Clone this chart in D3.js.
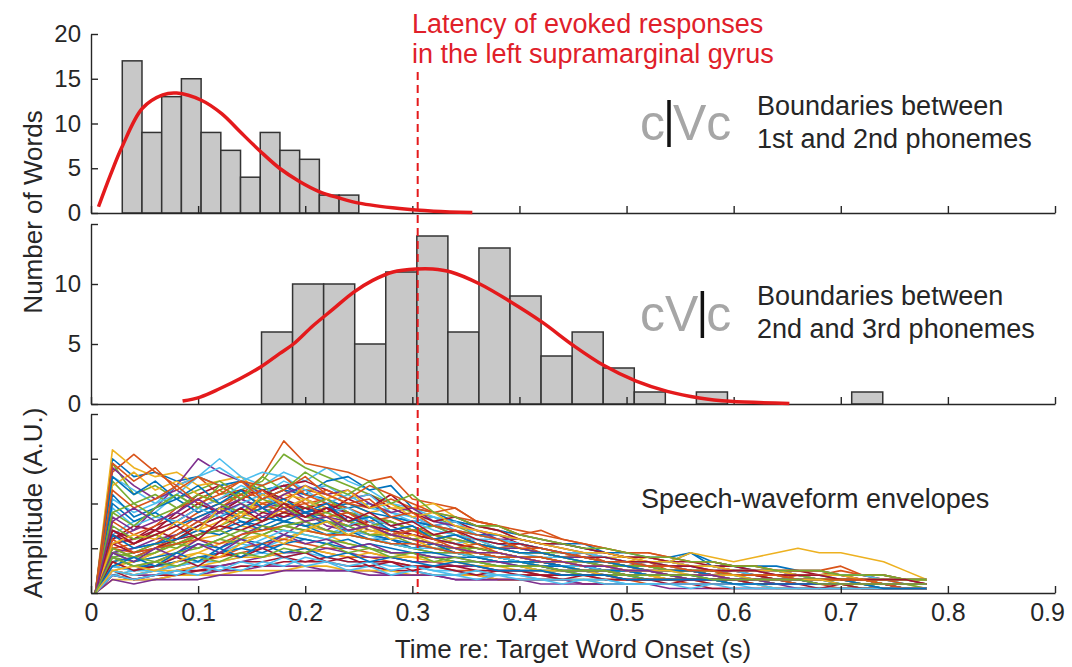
<!DOCTYPE html>
<html><head><meta charset="utf-8">
<script src="https://cdn.jsdelivr.net/npm/d3@7"></script>
<style>
html,body{margin:0;padding:0;background:#fff;}
svg{display:block;}
text{font-family:"Liberation Sans",Arial,Helvetica,sans-serif;}
</style></head><body>
<svg id="chart" width="1072" height="667"></svg>
<script>
// ---------------- data ----------------
const xTicks = [0,0.1,0.2,0.3,0.4,0.5,0.6,0.7,0.8,0.9];
const xTickLabels = ["0","0.1","0.2","0.3","0.4","0.5","0.6","0.7","0.8","0.9"];
const topYTicks = [0,5,10,15,20];
const topYTickLabels = ["0","5","10","15","20"];
const midYTicks = [0,5,10,15];
const midYTickLabels = ["0","5","10",""];
const botYTicks = [0,1,2,3,4];

// histogram of 1st/2nd phoneme boundaries
const topEdges = [0.0292,0.0476,0.0660,0.0844,0.1028,0.1212,0.1396,0.1580,0.1764,0.1948,0.2132,0.2316,0.2500];
const topCounts = [17,9,13,15,9,7,4,9,7,6,2,2];
const topFitT = [0.007,0.018,0.029,0.048,0.067,0.080,0.103,0.122,0.139,0.158,0.176,0.195,0.213,0.231,0.250,0.288,0.320,0.356];
const topFitV = [0.7,4.2,7.4,11.7,13.2,13.4,12.6,11.1,9.1,6.9,5.0,3.5,2.4,1.7,1.1,0.5,0.2,0.05];

// histogram of 2nd/3rd phoneme boundaries
const midEdges = [0.1592,0.1882,0.2172,0.2462,0.2752,0.3042,0.3332,0.3622,0.3912,0.4202,0.4492,0.4782,0.5072,0.5362,0.5652,0.5942,0.6232,0.6522,0.6812,0.7102,0.7392];
const midCounts = [6,10,10,5,11,14,6,13,9,4,6,3,1,0,1,0,0,0,0,1];
const midFitT = [0.0855,0.102,0.120,0.139,0.158,0.176,0.189,0.207,0.226,0.245,0.263,0.282,0.304,0.319,0.336,0.363,0.392,0.4215,0.450,0.479,0.509,0.538,0.568,0.597,0.652];
const midFitV = [0.25,0.58,1.27,2.1,3.07,4.2,5.0,6.5,7.9,9.3,10.3,11.0,11.25,11.25,11.0,10.0,8.5,6.8,4.9,3.2,1.9,1.05,0.5,0.22,0.05];

const latency = 0.305;

// speech-waveform envelopes (A.U.), sampled on envTime
const envTime = [0.004,0.02,0.04,0.06,0.08,0.10,0.12,0.14,0.16,0.18,0.20,0.22,0.24,0.26,0.28,0.30,0.32,0.34,0.36,0.38,0.40,0.42,0.44,0.46,0.48,0.50,0.52,0.54,0.56,0.58,0.60,0.62,0.64,0.66,0.68,0.70,0.72,0.74,0.76,0.78];
const envelopes = [
[0,3.0,2.6,2.7,2.5,2.6,2.4,2.5,2.3,2.4,2.2,2.1,1.9,2.0,1.7,1.6,1.5,1.3,1.2,1.1,1.0,0.9,0.8,0.8,0.7,0.6,0.6,0.5,0.5,0.4,0.4,0.4,0.3,0.3,0.3,0.3,0.2,0.2,0.2,0.2],
[0,2.7,3.1,2.7,2.4,2.6,2.2,2.3,2.1,2.3,2.0,2.1,1.8,1.6,1.7,1.5,1.3,1.4,1.1,1.0,1.1,0.9,0.8,0.9,0.7,0.6,0.7,0.5,0.5,0.4,0.5,0.4,0.3,0.4,0.3,0.3,0.3,0.2,0.2,0.2],
[0,3.2,2.8,2.6,2.7,2.4,2.5,2.6,2.2,2.0,1.8,1.9,1.6,1.4,1.3,1.2,1.1,1.0,0.9,0.8,0.8,0.7,0.6,0.6,0.5,0.5,0.4,0.4,0.3,0.3,0.3,0.3,0.3,0.2,0.2,0.2,0.2,0.2,0.2,0.1],
[0,1.2,1.4,1.9,2.4,3.0,2.7,2.5,2.2,2.4,2.1,1.9,1.8,1.6,1.4,1.2,1.1,1.0,0.9,0.8,0.7,0.7,0.6,0.5,0.5,0.4,0.4,0.4,0.3,0.3,0.3,0.3,0.2,0.2,0.2,0.2,0.2,0.2,0.1,0.1],
[0,0.8,0.7,0.9,1.2,1.5,1.8,2.3,2.5,3.1,2.8,2.6,2.4,2.2,2.0,1.8,1.7,1.5,1.3,1.2,1.0,0.9,0.9,0.8,0.7,0.6,0.6,0.5,0.5,0.4,0.4,0.4,0.3,0.3,0.3,0.3,0.2,0.2,0.2,0.2],
[0,1.3,1.6,1.8,2.2,2.6,3.0,2.6,2.4,2.7,2.5,2.8,2.5,2.3,2.0,1.9,1.7,1.6,1.3,1.2,1.1,1.0,0.9,0.8,0.8,0.7,0.6,0.6,0.5,0.5,0.4,0.4,0.4,0.3,0.3,0.3,0.3,0.2,0.2,0.2],
[0,1.1,1.2,1.4,1.6,1.9,2.1,2.3,2.2,2.4,2.5,2.3,2.1,2.2,1.9,1.7,1.5,1.6,1.4,1.3,1.1,1.0,0.9,0.9,0.8,0.7,0.7,0.6,0.5,0.5,0.5,0.4,0.4,0.4,0.3,0.3,0.3,0.2,0.2,0.2],
[0,0.9,1.0,1.1,1.3,1.5,1.7,1.9,2.1,2.3,2.2,2.5,2.6,2.3,2.4,1.9,1.8,1.6,1.5,1.4,1.3,1.2,1.1,1.1,0.9,0.8,0.8,0.7,0.9,0.6,0.6,0.5,0.5,0.4,0.4,0.3,0.3,0.3,0.2,0.2],
[0,1.0,0.9,1.1,1.4,1.7,1.9,2.2,2.6,3.4,2.9,2.8,2.7,2.5,2.6,2.1,2.0,1.9,1.6,1.5,1.3,1.2,1.1,1.0,0.9,0.8,0.8,0.7,0.6,0.6,0.5,0.5,0.5,0.4,0.4,0.5,0.4,0.3,0.3,0.3],
[0,0.7,0.8,1.0,1.2,1.4,1.6,1.8,2.0,2.2,2.1,1.9,2.0,1.8,1.9,1.9,2.0,1.7,1.5,1.4,1.2,1.1,1.0,0.9,0.8,0.8,0.7,0.7,0.6,0.6,0.5,0.5,0.5,0.4,0.4,0.4,0.3,0.3,0.3,0.2],
[0,0.9,1.0,1.2,1.3,1.6,1.8,1.7,1.9,2.0,1.8,1.7,1.6,1.4,1.3,1.2,1.1,1.0,0.9,0.8,0.7,0.7,0.6,0.6,0.5,0.5,0.4,0.4,0.3,0.3,0.3,0.3,0.2,0.2,0.2,0.2,0.2,0.2,0.1,0.1],
[0,2.9,2.2,2.4,2.1,2.3,2.5,2.2,2.4,2.0,1.9,1.7,1.8,1.5,1.4,1.2,1.3,1.1,0.9,0.8,0.7,0.7,0.6,0.5,0.5,0.4,0.4,0.4,0.3,0.3,0.3,0.2,0.2,0.2,0.2,0.2,0.2,0.1,0.1,0.1],
[0,2.6,2.3,2.0,2.4,2.6,2.8,2.5,2.7,2.6,2.3,2.4,2.1,2.2,1.8,1.7,1.5,1.6,1.3,1.2,1.1,1.0,0.9,0.8,0.8,0.7,0.6,0.6,0.5,0.5,0.4,0.4,0.4,0.3,0.3,0.3,0.3,0.2,0.2,0.2],
[0,1.2,1.5,1.4,1.8,2.2,2.4,2.1,2.3,2.0,1.9,1.7,1.5,1.6,1.4,1.2,1.1,1.0,0.9,0.8,0.8,0.7,0.6,0.6,0.5,0.5,0.4,0.4,0.4,0.3,0.3,0.3,0.3,0.2,0.2,0.2,0.2,0.2,0.1,0.1],
[0,0.7,0.8,1.0,1.1,1.3,1.4,1.6,1.5,1.7,1.8,1.9,2.0,1.8,1.7,1.6,1.5,1.4,1.3,1.3,1.2,1.1,1.1,1.0,0.9,0.9,0.8,0.8,0.9,0.7,0.6,0.6,0.6,0.5,0.5,0.4,0.4,0.4,0.3,0.3],
[0,1.0,1.1,1.3,1.5,1.8,2.0,2.2,2.0,2.1,2.3,2.2,2.0,1.9,2.1,1.9,1.8,1.7,1.6,1.5,1.4,1.3,1.2,1.1,1.0,0.9,0.9,0.8,0.7,0.7,0.6,0.6,0.5,0.5,0.5,0.6,0.4,0.4,0.3,0.3],
[0,0.6,0.7,0.8,1.0,1.2,1.3,1.5,1.4,1.6,1.5,1.4,1.3,1.4,1.3,1.2,1.1,1.2,1.0,1.0,0.9,0.9,0.8,0.8,0.7,0.7,0.8,0.7,0.9,0.8,0.7,0.8,0.9,1.0,0.9,0.9,0.8,0.7,0.5,0.3],
[0,2.8,2.4,2.1,2.3,2.0,1.8,2.1,1.9,1.7,1.8,1.5,1.4,1.3,1.2,1.0,1.1,0.9,0.8,0.7,0.7,0.6,0.5,0.5,0.4,0.4,0.4,0.3,0.3,0.3,0.3,0.2,0.2,0.2,0.2,0.2,0.1,0.1,0.1,0.1],
[0,2.5,2.0,2.2,1.9,2.1,2.3,2.0,1.8,2.0,1.7,1.6,1.4,1.5,1.3,1.1,1.0,1.0,0.8,0.8,0.7,0.6,0.6,0.5,0.5,0.4,0.4,0.3,0.3,0.3,0.3,0.3,0.2,0.2,0.2,0.2,0.2,0.2,0.1,0.1],
[0,2.1,1.8,2.0,2.2,1.9,2.1,2.4,2.2,2.5,2.3,2.0,2.2,1.9,1.8,1.6,1.7,1.4,1.3,1.2,1.1,1.0,0.9,0.9,0.8,0.7,0.7,0.6,0.6,0.5,0.5,0.4,0.4,0.4,0.3,0.3,0.3,0.3,0.2,0.2],
[0,1.4,1.2,1.5,1.7,2.0,1.8,2.1,2.3,2.1,1.9,2.0,1.8,1.7,1.5,1.3,1.2,1.1,1.0,0.9,0.8,0.8,0.7,0.6,0.6,0.5,0.5,0.4,0.4,0.4,0.3,0.3,0.3,0.3,0.2,0.2,0.2,0.2,0.2,0.2],
[0,2.2,1.7,1.9,2.1,1.8,2.0,1.7,1.9,1.6,1.5,1.6,1.3,1.2,1.2,1.0,0.9,0.9,0.8,0.7,0.6,0.6,0.5,0.5,0.4,0.4,0.3,0.3,0.3,0.3,0.2,0.2,0.2,0.2,0.2,0.2,0.2,0.1,0.1,0.1],
[0,1.6,1.3,1.5,1.9,2.1,2.3,2.5,2.4,2.6,2.2,2.0,1.9,1.7,1.6,1.4,1.3,1.2,1.1,1.0,0.9,0.9,0.8,0.7,0.7,0.6,0.6,0.5,0.5,0.4,0.4,0.4,0.3,0.3,0.3,0.3,0.2,0.2,0.2,0.2],
[0,2.4,2.7,2.3,2.5,2.2,2.0,1.8,2.0,1.8,1.6,1.7,1.5,1.3,1.4,1.2,1.0,0.9,0.9,0.8,0.7,0.6,0.6,0.5,0.4,0.4,0.4,0.3,0.3,0.3,0.2,0.2,0.2,0.2,0.2,0.2,0.1,0.1,0.1,0.1],
[0,1.7,1.4,1.6,1.8,1.6,1.9,2.1,1.9,2.2,2.4,2.2,2.3,2.0,1.8,1.9,1.6,1.5,1.4,1.2,1.2,1.1,1.0,0.9,0.9,0.8,0.7,0.7,0.6,0.6,0.5,0.5,0.5,0.4,0.4,0.4,0.3,0.3,0.3,0.2],
[0,0.8,0.9,1.1,1.0,1.3,1.5,1.7,1.6,1.8,1.9,2.1,1.8,1.7,1.6,1.4,1.5,1.3,1.2,1.0,1.0,0.9,0.8,0.8,0.7,0.6,0.6,0.5,0.5,0.5,0.4,0.4,0.4,0.3,0.3,0.3,0.3,0.2,0.2,0.2],
[0,1.9,1.5,1.7,1.6,1.9,1.7,2.0,2.2,1.9,2.1,1.8,1.9,1.6,1.4,1.5,1.2,1.1,1.2,1.0,0.9,0.8,0.8,0.7,0.6,0.6,0.5,0.5,0.4,0.4,0.4,0.3,0.3,0.3,0.3,0.2,0.2,0.2,0.2,0.2],
[0,1.3,1.1,1.4,1.2,1.5,1.7,1.5,1.8,1.7,1.9,1.8,2.1,1.9,2.2,1.8,1.6,1.7,1.5,1.4,1.2,1.1,1.1,1.0,0.9,0.8,0.8,0.7,0.7,0.6,0.6,0.5,0.5,0.5,0.4,0.4,0.4,0.3,0.3,0.3],
[0,2.0,1.6,1.8,1.5,1.7,1.9,1.6,1.4,1.6,1.5,1.3,1.4,1.2,1.1,1.0,1.1,0.9,0.8,0.8,0.7,0.7,0.6,0.6,0.5,0.5,0.5,0.4,0.4,0.4,0.3,0.3,0.3,0.3,0.2,0.2,0.2,0.2,0.2,0.2],
[0,1.0,0.8,1.0,1.3,1.6,1.4,1.7,2.0,1.8,2.1,2.3,2.1,2.4,2.2,2.0,1.8,1.9,1.6,1.5,1.3,1.4,1.2,1.1,1.0,0.9,0.9,0.8,0.7,0.7,0.6,0.6,0.5,0.5,0.5,0.4,0.4,0.4,0.3,0.3],
[0,0.6,0.7,0.9,1.1,1.3,1.5,1.8,1.6,1.9,2.1,1.8,1.6,1.5,1.3,1.2,1.0,0.9,0.8,0.8,0.7,0.6,0.6,0.5,0.5,0.4,0.4,0.3,0.3,0.3,0.3,0.2,0.2,0.2,0.2,0.2,0.2,0.1,0.1,0.1],
[0,0.6,0.5,0.7,0.9,1.2,1.0,1.3,1.5,1.3,1.6,1.4,1.7,1.5,1.3,1.4,1.2,1.3,1.1,1.0,1.0,0.9,0.8,0.8,0.7,0.7,0.6,0.6,0.6,0.5,0.5,0.5,0.4,0.4,0.4,0.4,0.3,0.3,0.3,0.3],
[0,1.8,2.0,1.7,1.9,2.2,2.0,1.8,2.1,1.9,1.7,1.8,1.6,1.5,1.6,1.4,1.3,1.2,1.1,1.0,0.9,0.9,0.8,0.7,0.7,0.6,0.6,0.5,0.5,0.5,0.4,0.4,0.4,0.3,0.3,0.3,0.3,0.2,0.2,0.2],
[0,0.4,0.5,0.6,0.8,0.7,0.9,1.1,1.0,1.2,1.4,1.3,1.5,1.7,1.5,1.6,1.4,1.3,1.2,1.2,1.1,1.0,0.9,0.9,0.8,0.7,0.7,0.7,0.6,0.6,0.5,0.5,0.5,0.4,0.4,0.4,0.4,0.3,0.3,0.3],
[0,1.1,0.9,1.0,1.2,1.3,1.5,1.4,1.6,1.8,1.7,1.9,1.7,1.5,1.4,1.3,1.2,1.1,1.0,0.9,0.8,0.8,0.7,0.7,0.6,0.6,0.5,0.5,0.5,0.4,0.4,0.4,0.3,0.3,0.3,0.3,0.3,0.2,0.2,0.2],
[0,1.3,1.0,1.1,1.2,1.4,1.3,1.5,1.7,1.6,1.8,1.6,1.5,1.3,1.2,1.1,1.0,0.9,0.8,0.8,0.7,0.7,0.6,0.6,0.5,0.5,0.4,0.4,0.4,0.3,0.3,0.3,0.3,0.2,0.2,0.2,0.2,0.2,0.2,0.2],
[0,0.5,0.4,0.5,0.6,0.7,0.8,0.9,1.0,1.1,1.0,0.9,0.8,0.8,0.7,0.6,0.6,0.5,0.5,0.4,0.4,0.4,0.3,0.3,0.3,0.3,0.2,0.2,0.2,0.2,0.2,0.2,0.1,0.1,0.1,0.1,0.1,0.1,0.1,0.1],
[0,0.8,0.6,0.7,0.8,0.9,1.1,1.2,1.3,1.2,1.4,1.3,1.1,1.0,0.9,0.8,0.8,0.7,0.6,0.6,0.5,0.5,0.4,0.4,0.4,0.3,0.3,0.3,0.3,0.2,0.2,0.2,0.2,0.2,0.2,0.2,0.1,0.1,0.1,0.1],
[0,0.4,0.3,0.3,0.4,0.4,0.5,0.5,0.6,0.6,0.6,0.5,0.5,0.5,0.4,0.4,0.4,0.3,0.3,0.3,0.3,0.2,0.2,0.2,0.2,0.2,0.2,0.1,0.1,0.1,0.1,0.1,0.1,0.1,0.1,0.1,0.1,0.1,0.1,0.1],
[0,1.0,0.8,0.9,1.1,1.0,1.2,1.4,1.3,1.5,1.6,1.4,1.3,1.2,1.1,1.0,0.9,0.9,0.8,0.7,0.7,0.6,0.6,0.5,0.5,0.4,0.4,0.4,0.3,0.3,0.3,0.3,0.2,0.2,0.2,0.2,0.2,0.2,0.2,0.1],
[0,0.6,0.5,0.6,0.6,0.7,0.7,0.8,0.9,0.8,0.9,0.8,0.7,0.7,0.6,0.6,0.5,0.5,0.4,0.4,0.4,0.3,0.3,0.3,0.3,0.2,0.2,0.2,0.2,0.2,0.2,0.1,0.1,0.1,0.1,0.1,0.1,0.1,0.1,0.1],
[0,0.5,0.3,0.4,0.5,0.5,0.6,0.7,0.7,0.8,0.7,0.7,0.6,0.6,0.5,0.5,0.4,0.4,0.4,0.3,0.3,0.3,0.3,0.2,0.2,0.2,0.2,0.2,0.2,0.1,0.1,0.1,0.1,0.1,0.1,0.1,0.1,0.1,0.1,0.1],
[0,0.9,0.7,0.8,0.9,1.1,1.0,1.2,1.1,1.3,1.2,1.1,1.2,1.0,0.9,0.9,0.8,0.7,0.7,0.6,0.6,0.5,0.5,0.4,0.4,0.4,0.3,0.3,0.3,0.3,0.2,0.2,0.2,0.2,0.2,0.2,0.2,0.1,0.1,0.1],
[0,0.7,0.5,0.6,0.7,0.8,0.8,1.0,1.1,1.2,1.1,1.0,1.0,0.9,0.8,0.7,0.7,0.6,0.6,0.5,0.5,0.4,0.4,0.4,0.3,0.3,0.3,0.3,0.2,0.2,0.2,0.2,0.2,0.2,0.2,0.1,0.1,0.1,0.1,0.1],
[0,0.3,0.3,0.3,0.4,0.4,0.4,0.5,0.5,0.5,0.6,0.6,0.5,0.5,0.5,0.4,0.4,0.4,0.4,0.3,0.3,0.3,0.3,0.3,0.2,0.2,0.2,0.2,0.2,0.2,0.2,0.2,0.1,0.1,0.1,0.1,0.1,0.1,0.1,0.1],
[0,0.5,0.4,0.4,0.5,0.6,0.6,0.7,0.8,0.9,0.9,1.0,0.9,0.8,0.8,0.7,0.7,0.6,0.6,0.5,0.5,0.5,0.4,0.4,0.4,0.3,0.3,0.3,0.3,0.3,0.2,0.2,0.2,0.2,0.2,0.2,0.2,0.2,0.1,0.1],
[0,1.5,1.2,1.3,1.1,1.3,1.4,1.2,1.5,1.4,1.3,1.2,1.1,1.0,0.9,0.9,0.8,0.7,0.7,0.6,0.6,0.5,0.5,0.4,0.4,0.4,0.3,0.3,0.3,0.3,0.2,0.2,0.2,0.2,0.2,0.2,0.1,0.1,0.1,0.1],
[0,0.6,0.5,0.5,0.6,0.7,0.9,1.0,1.2,1.4,1.3,1.2,1.4,1.3,1.1,1.0,1.0,0.9,0.8,0.8,0.7,0.6,0.6,0.6,0.5,0.5,0.4,0.4,0.4,0.4,0.3,0.3,0.3,0.3,0.3,0.2,0.2,0.2,0.2,0.2],
[0,0.4,0.3,0.4,0.4,0.5,0.5,0.6,0.6,0.7,0.7,0.8,0.7,0.7,0.7,0.6,0.6,0.6,0.5,0.5,0.5,0.4,0.4,0.4,0.4,0.3,0.3,0.3,0.3,0.3,0.3,0.2,0.2,0.2,0.2,0.2,0.2,0.2,0.2,0.2],
[0,0.8,0.6,0.6,0.7,0.8,0.9,1.0,0.9,1.1,1.2,1.1,1.0,1.1,1.0,0.9,0.9,0.8,0.8,0.7,0.7,0.6,0.6,0.5,0.5,0.5,0.4,0.4,0.4,0.4,0.3,0.3,0.3,0.3,0.3,0.3,0.2,0.2,0.2,0.2],
[0,1.2,0.9,1.0,1.1,1.2,1.1,1.3,1.4,1.5,1.4,1.3,1.3,1.2,1.1,1.1,1.0,0.9,0.9,0.8,0.8,0.7,0.7,0.6,0.6,0.6,0.5,0.5,0.5,0.4,0.4,0.4,0.4,0.3,0.3,0.3,0.3,0.3,0.2,0.2],
[0,0.5,0.4,0.5,0.5,0.6,0.7,0.8,0.8,0.9,1.0,0.9,0.8,0.9,0.8,0.8,0.7,0.7,0.6,0.6,0.6,0.5,0.5,0.5,0.5,0.4,0.4,0.4,0.4,0.4,0.3,0.3,0.3,0.3,0.3,0.3,0.3,0.2,0.2,0.2],
[0,0.3,0.2,0.3,0.3,0.3,0.4,0.4,0.4,0.5,0.5,0.5,0.5,0.4,0.4,0.4,0.4,0.3,0.3,0.3,0.3,0.3,0.3,0.2,0.2,0.2,0.2,0.2,0.2,0.2,0.2,0.2,0.2,0.1,0.1,0.1,0.1,0.1,0.1,0.1],
[0,0.9,0.8,0.7,0.9,1.0,1.2,1.1,1.3,1.5,1.4,1.6,1.5,1.3,1.3,1.2,1.1,1.0,1.0,0.9,0.8,0.8,0.7,0.7,0.6,0.6,0.6,0.5,0.5,0.5,0.4,0.4,0.4,0.4,0.3,0.3,0.3,0.3,0.3,0.3],
[0,0.5,0.4,0.5,0.4,0.6,0.5,0.7,0.6,0.8,0.6,0.7,0.5,0.6,0.4,0.5,0.4,0.4,0.3,0.4,0.3,0.3,0.2,0.3,0.2,0.2,0.2,0.2,0.1,0.2,0.1,0.1,0.1,0.1,0.1,0.1,0.1,0.1,0.1,0.1],
[0,0.7,0.5,0.6,0.8,0.6,0.9,0.8,1.0,0.8,0.9,0.7,0.8,0.6,0.7,0.5,0.6,0.5,0.4,0.5,0.4,0.4,0.3,0.4,0.3,0.3,0.3,0.2,0.3,0.2,0.2,0.2,0.2,0.2,0.1,0.2,0.1,0.1,0.1,0.1],
[0,2.6,2.2,2.5,2.1,2.4,2.0,2.3,1.9,2.1,1.8,2.0,1.6,1.7,1.4,1.5,1.2,1.3,1.1,1.0,0.9,0.9,0.8,0.7,0.7,0.6,0.5,0.5,0.5,0.4,0.4,0.3,0.3,0.3,0.3,0.2,0.2,0.2,0.2,0.2],
[0,2.9,2.5,2.8,2.3,2.6,2.4,2.1,2.3,1.9,2.0,1.7,1.8,1.5,1.3,1.4,1.2,1.0,1.1,0.9,0.8,0.8,0.7,0.6,0.6,0.5,0.5,0.4,0.4,0.4,0.3,0.3,0.3,0.2,0.2,0.2,0.2,0.2,0.1,0.1],
[0,1.1,1.3,1.2,1.6,1.4,1.9,1.7,2.2,2.0,2.4,2.1,2.3,1.9,2.0,1.7,1.8,1.5,1.4,1.3,1.2,1.1,1.0,0.9,0.9,0.8,0.7,0.7,0.6,0.6,0.5,0.5,0.5,0.4,0.4,0.4,0.3,0.3,0.3,0.3],
[0,0.9,0.7,1.0,0.8,1.1,0.9,1.2,1.0,1.3,1.1,1.2,1.0,1.1,0.9,0.9,0.8,0.8,0.7,0.7,0.6,0.6,0.5,0.5,0.5,0.4,0.4,0.4,0.3,0.3,0.3,0.3,0.2,0.2,0.2,0.2,0.2,0.2,0.2,0.2],
[0,1.8,1.5,1.9,2.2,1.9,2.4,2.1,2.6,2.3,2.7,2.4,2.2,2.5,2.0,2.2,1.8,1.7,1.5,1.5,1.3,1.2,1.1,1.0,1.0,0.9,0.8,0.8,0.7,0.7,0.6,0.6,0.5,0.5,0.5,0.4,0.4,0.4,0.3,0.3],
[0,0.4,0.3,0.4,0.5,0.4,0.6,0.5,0.7,0.6,0.8,0.7,0.6,0.7,0.5,0.6,0.5,0.4,0.5,0.4,0.4,0.3,0.3,0.3,0.3,0.2,0.2,0.2,0.2,0.2,0.2,0.2,0.1,0.1,0.1,0.1,0.1,0.1,0.1,0.1],
[0,1.4,1.1,1.3,1.5,1.2,1.6,1.9,1.6,2.0,1.7,1.9,1.6,1.8,1.5,1.6,1.3,1.4,1.2,1.1,1.1,1.0,0.9,0.8,0.8,0.7,0.7,0.6,0.6,0.5,0.5,0.5,0.4,0.4,0.4,0.3,0.3,0.3,0.3,0.2],
[0,0.6,0.8,0.6,0.9,0.7,1.0,0.8,1.1,0.9,1.0,0.8,0.9,0.7,0.8,0.7,0.6,0.7,0.6,0.5,0.5,0.5,0.4,0.4,0.4,0.3,0.3,0.3,0.3,0.3,0.2,0.2,0.2,0.2,0.2,0.2,0.2,0.1,0.1,0.1],
[0,2.3,1.9,2.1,2.4,2.0,2.2,2.5,2.1,2.3,2.6,2.2,2.0,2.1,1.7,1.8,1.5,1.4,1.3,1.2,1.0,1.0,0.9,0.8,0.7,0.7,0.6,0.6,0.5,0.5,0.4,0.4,0.4,0.3,0.3,0.3,0.3,0.2,0.2,0.2],
[0,0.5,0.6,0.5,0.7,0.9,0.8,1.1,1.3,1.1,1.4,1.6,1.3,1.5,1.2,1.3,1.1,1.0,0.9,0.9,0.8,0.7,0.7,0.6,0.6,0.5,0.5,0.5,0.4,0.4,0.4,0.3,0.3,0.3,0.3,0.2,0.2,0.2,0.2,0.2],
[0,1.6,1.9,1.6,1.8,2.1,1.8,2.0,1.7,1.9,1.6,1.7,1.4,1.5,1.3,1.2,1.1,1.0,0.9,0.9,0.8,0.7,0.7,0.6,0.6,0.5,0.5,0.4,0.4,0.4,0.3,0.3,0.3,0.3,0.2,0.2,0.2,0.2,0.2,0.2],
[0,0.8,0.6,0.7,0.6,0.8,0.7,0.9,0.8,1.0,0.9,1.1,0.9,1.0,0.8,0.9,0.7,0.8,0.7,0.6,0.6,0.6,0.5,0.5,0.5,0.4,0.4,0.4,0.4,0.3,0.3,0.3,0.3,0.3,0.2,0.2,0.2,0.2,0.2,0.2]
];
const lineColors = ["#0072BD","#D95319","#EDB120","#7E2F8E","#77AC30","#4DBEEE","#A2142F"];

const textLatency = ["Latency of evoked responses","in the left supramarginal gyrus"];
const textTop = ["Boundaries between","1st and 2nd phonemes"];
const textMid = ["Boundaries between","2nd and 3rd phonemes"];
const textBot = "Speech-waveform envelopes";
const xTitle = "Time re: Target Word Onset (s)";
const yTitleHist = "Number of Words";
const yTitleEnv = "Amplitude (A.U.)";

// ---------------- drawing ----------------
const svg = d3.select("#chart");
const AX = "#262626";
const RED = "#e41a1c";

const x = d3.scaleLinear().domain([0,0.9]).range([91,1055]);
const yTop = d3.scaleLinear().domain([0,20]).range([213,34]);
const yMid = d3.scaleLinear().domain([0,15]).range([404,224]);
const yBot = d3.scaleLinear().domain([0,4]).range([593,414]);

function styleAxis(g, fs){
  g.select(".domain").attr("stroke",AX).attr("stroke-width",1.4);
  g.selectAll(".tick line").attr("stroke",AX).attr("stroke-width",1.4);
  g.selectAll(".tick text").attr("fill",AX).attr("font-size",fs).attr("font-family",'"Liberation Sans",Arial,sans-serif');
}

// histograms
function drawHist(edges, counts, y){
  const bins = counts.map((c,i)=>({x0:edges[i],x1:edges[i+1],c})).filter(b=>b.c>0);
  svg.append("g").selectAll("rect").data(bins).join("rect")
    .attr("x",d=>x(d.x0)).attr("width",d=>x(d.x1)-x(d.x0))
    .attr("y",d=>y(d.c)).attr("height",d=>y(0)-y(d.c))
    .attr("fill","#c8c8c8").attr("stroke","#333").attr("stroke-width",1.5);
}
drawHist(topEdges, topCounts, yTop);
drawHist(midEdges, midCounts, yMid);

// envelopes
const envLine = d3.line().x((d,i)=>x(envTime[i])).y(d=>yBot(d));
svg.append("g").selectAll("path").data(envelopes).join("path")
  .attr("d",envLine).attr("fill","none")
  .attr("stroke",(d,i)=>lineColors[i%lineColors.length])
  .attr("stroke-width",1.6).attr("stroke-linejoin","round");

// axes
function xAxis(yPos, withLabels){
  const g = svg.append("g").attr("transform",`translate(0,${yPos})`)
    .call(d3.axisBottom(x).tickValues(xTicks).tickSize(-7).tickSizeOuter(0).tickPadding(10)
      .tickFormat((d,i)=>withLabels?xTickLabels[i]:""));
  styleAxis(g,25);
  // keep the last label inside the figure
  g.selectAll(".tick text").filter(d=>d===0.9).attr("dx",-8);
}
xAxis(yTop(0), false);
xAxis(yMid(0), false);
xAxis(yBot(0), true);

function yAxis(scale, ticks, labels){
  const g = svg.append("g").attr("transform",`translate(${x(0)},0)`)
    .call(d3.axisLeft(scale).tickValues(ticks).tickSize(-7).tickSizeOuter(0).tickPadding(10)
      .tickFormat((d,i)=>labels?labels[i]:""));
  styleAxis(g,24);
}
yAxis(yTop, topYTicks, topYTickLabels);
yAxis(yMid, midYTicks, midYTickLabels);
yAxis(yBot, botYTicks, null);

// fitted curves
const fitLine = (T,y)=>d3.line().x((d,i)=>x(T[i])).y(d=>y(d)).curve(d3.curveCatmullRom);
svg.append("path").datum(topFitV).attr("d",fitLine(topFitT,yTop))
  .attr("fill","none").attr("stroke",RED).attr("stroke-width",3.5);
svg.append("path").datum(midFitV).attr("d",fitLine(midFitT,yMid))
  .attr("fill","none").attr("stroke",RED).attr("stroke-width",3.5);

// latency line
svg.append("line").attr("x1",x(latency)).attr("x2",x(latency))
  .attr("y1",72).attr("y2",yBot(0))
  .attr("stroke",RED).attr("stroke-width",2).attr("stroke-dasharray","8,5");

// texts
const txt = (s,xx,yy,fs,fill,anchor)=>svg.append("text").attr("x",xx).attr("y",yy)
  .attr("font-size",fs).attr("fill",fill).attr("text-anchor",anchor||"start").text(s);
txt(textLatency[0],412,33,27,"#e0202a");
txt(textLatency[1],412,63,27,"#e0202a");
txt(textTop[0],757,115,27,AX);
txt(textTop[1],757,148,27,AX);
txt(textMid[0],757,305,27,AX);
txt(textMid[1],757,338,27,AX);
txt(textBot,641,508,27,AX);
txt(xTitle,(x(0)+x(0.9))/2,658,26,AX,"middle");
svg.append("text").attr("transform",`translate(42,212) rotate(-90)`).attr("text-anchor","middle")
  .attr("font-size",26).attr("fill",AX).text(yTitleHist);
svg.append("text").attr("transform",`translate(42,503) rotate(-90)`).attr("text-anchor","middle")
  .attr("font-size",26).attr("fill",AX).text(yTitleEnv);

// c|Vc and cV|c glyphs
function phon(left, right, xx, yy){
  const fs=50, gray="#a6a6a6";
  const t1 = txt(left,xx,yy,fs,gray);
  const w1 = t1.node().getComputedTextLength();
  const bx = xx+w1+4;
  svg.append("line").attr("x1",bx).attr("x2",bx).attr("y1",yy-40).attr("y2",yy+7)
    .attr("stroke","#111").attr("stroke-width",3.5);
  txt(right,bx+4,yy,fs,gray);
}
phon("c","Vc",640,140);
phon("cV","c",640,331);
</script>
</body></html>
